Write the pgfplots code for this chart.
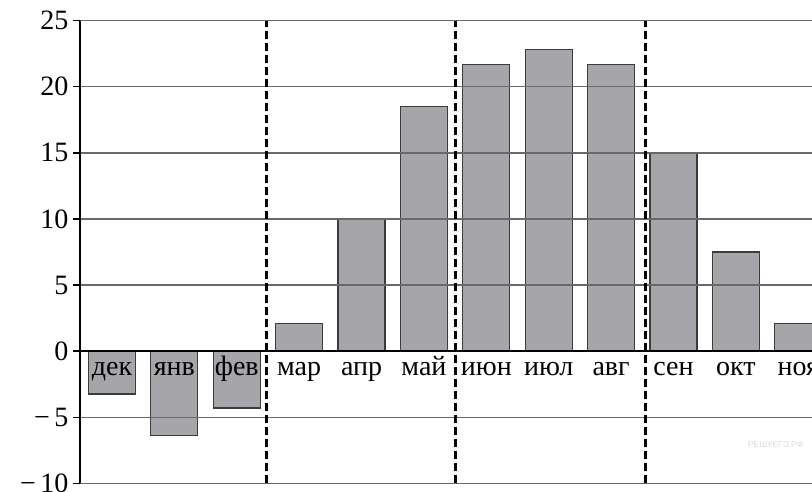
\documentclass[border=0pt]{standalone}
\usepackage{pgfplots}
\pgfplotsset{compat=1.18}
\usepackage{fontspec}
\setmainfont{Liberation Serif}
\newfontfamily\marksans{Liberation Sans}
\definecolor{barfill}{RGB}{166,166,170}
\definecolor{baredge}{RGB}{60,60,60}
\definecolor{gridgray}{RGB}{105,105,105}
\begin{document}
\begin{tikzpicture}
\useasboundingbox (0,0) rectangle (812pt,491pt);
\clip (0,0) rectangle (812pt,491pt);
\begin{axis}[
    at={(80pt,7.7pt)}, anchor=south west,
    scale only axis,
    width=732pt, height=462.6pt,
    ybar, bar width=47pt,
    xmin=-0.513, xmax=11.22,
    ymin=-10, ymax=25,
    axis x line*=middle,
    axis y line*=left,
    axis line style={black, line width=2.5pt},
    axis on top,
    ytick={-10,-5,0,5,10,15,20,25},
    yticklabels={−\,10,−\,5,0,5,10,15,20,25},
    xtick={0,...,11},
    xticklabels={дек,янв,фев,мар,апр,май,июн,июл,авг,сен,окт,ноя},
    tick label style={font=\fontsize{28}{30}\selectfont},
    x tick label style={anchor=north, text height=20pt, text depth=6pt, inner sep=1pt, yshift=4pt},
    y tick label style={xshift=-1pt},
    ymajorgrids,
    major grid style={gridgray, line width=1.3pt},
    ytick style={black, line width=1.3pt},
    tick align=outside,
    major tick length=7pt,
    xtick style={draw=none},
    extra x ticks={2.48,5.51,8.55},
    extra x tick labels={},
    extra x tick style={grid=major, major grid style={black, line width=2.8pt, dash pattern=on 8pt off 4pt}, tick style={draw=none}},
]
\addplot[fill=barfill, draw=baredge, line width=1.2pt] coordinates {
    (0,-3.25) (1,-6.4) (2,-4.3) (3,2.1) (4,10) (5,18.5)
    (6,21.7) (7,22.8) (8,21.7) (9,15) (10,7.5) (11,2.1)
};
\node[anchor=west, inner sep=0pt, text=black!14, font=\marksans\fontsize{8.5}{9}\selectfont] at (axis cs:10.19,-7.06) {РЕШУЕГЭ.РФ};
\end{axis}
\end{tikzpicture}
\end{document}
